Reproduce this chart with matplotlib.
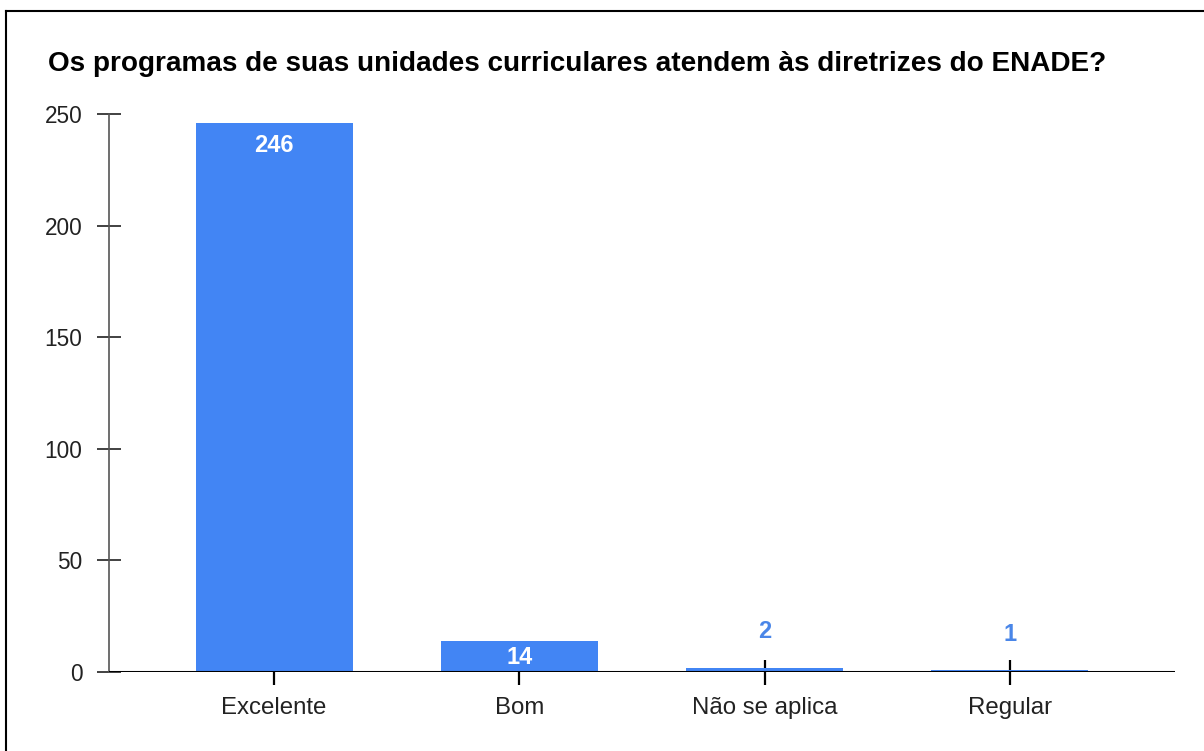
import matplotlib
matplotlib.use("Agg")
import matplotlib.pyplot as plt
from matplotlib.lines import Line2D

categories = ["Excelente", "Bom", "Não se aplica", "Regular"]
values = [246, 14, 2, 1]
yticks = [0, 50, 100, 150, 200, 250]
title = "Os programas de suas unidades curriculares atendem às diretrizes do ENADE?"

BAR = "#4285F4"
plt.rcParams['font.family'] = ['Liberation Sans', 'DejaVu Sans']

fig = plt.figure(figsize=(12.04, 7.51), dpi=100)
W, H = 1204, 751
ax = fig.add_axes([109 / W, 79 / H, (1175 - 109) / W, (672 - 114) / H])

x = list(range(len(categories)))
ax.bar(x, values, width=0.64, color=BAR, zorder=2)
ax.set_xlim(-0.673, len(categories) - 1 + 0.673)
ax.set_ylim(0, 250)
ax.set_yticks(yticks)
ax.set_yticklabels([str(t) for t in yticks], fontsize=16.3, color="#222222")
ax.set_xticks(x)
ax.set_xticklabels(categories, fontsize=17.3, color="#222222")

for s in ["top", "right"]:
    ax.spines[s].set_visible(False)
ax.spines["left"].set_color("#555555")
ax.spines["left"].set_linewidth(1.2)
ax.spines["bottom"].set_visible(False)
ax.axhline(0, color="black", lw=2.2, zorder=3)

ax.tick_params(axis="y", direction="inout", length=17, width=1.3, color="#333333", pad=10.5)
ax.tick_params(axis="x", direction="inout", length=18, width=1.6, color="black", pad=9)
for t in ax.xaxis.get_major_ticks():
    t.tick1line.set_zorder(4)

for xi, v in zip(x, values):
    if v > 100:
        ax.text(xi, v - 10, str(v), ha="center", va="center", color="white",
                fontsize=17, fontweight="bold", zorder=5)
    elif v > 5:
        ax.text(xi, v - 7.5, str(v), ha="center", va="center", color="white",
                fontsize=17, fontweight="bold", zorder=5)
    else:
        ax.text(xi, v + 16, str(v), ha="center", va="center", color="#4a86e8",
                fontsize=17, fontweight="bold", zorder=5)

fig.text(48 / W, 1 - 64 / H, title, ha="left", va="center", fontsize=20.1,
         fontweight="bold", color="black")

fig.add_artist(Line2D([6 / W, 6 / W], [0, 1 - 11 / H], transform=fig.transFigure,
                      color="black", lw=1.5))
fig.add_artist(Line2D([6 / W, 1], [1 - 11 / H, 1 - 11 / H], transform=fig.transFigure,
                      color="black", lw=1.5))

fig.savefig("out.png", dpi=100)
